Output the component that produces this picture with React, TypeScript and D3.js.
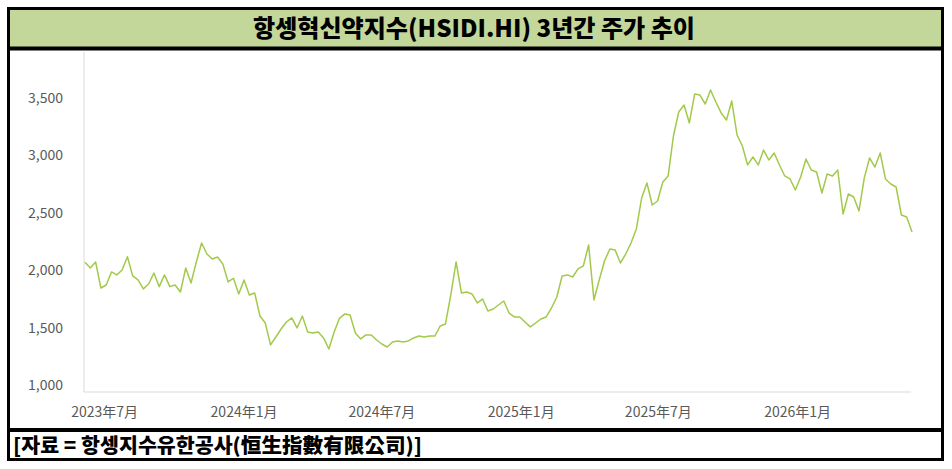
import * as d3 from "d3";

// weekly closes, starting week of 2023-06-05
const startDate = new Date(2023, 5, 5);
const values = [
  2060, 2010, 2063, 1836, 1862, 1976, 1950, 1993, 2109, 1941,
  1906, 1828, 1871, 1967, 1848, 1950, 1848, 1862, 1801, 2010,
  1880, 2063, 2228, 2132, 2089, 2106, 2045, 1889, 1921, 1784,
  1906, 1775, 1793, 1592, 1531, 1340, 1409, 1479, 1540, 1575,
  1488, 1592, 1453, 1444, 1453, 1401, 1305, 1453, 1572, 1610,
  1601, 1444, 1392, 1427, 1427, 1383, 1348, 1322, 1366, 1375,
  1366, 1375, 1401, 1418, 1409, 1418, 1418, 1505, 1523, 1775,
  2063, 1793, 1801, 1784, 1706, 1740, 1636, 1653, 1688, 1723,
  1618, 1584, 1584, 1540, 1497, 1531, 1566, 1584, 1662, 1758,
  1941, 1950, 1932, 2002, 2028, 2211, 1732, 1906, 2071, 2176,
  2167, 2054, 2132, 2228, 2350, 2620, 2751, 2559, 2594, 2760,
  2812, 3160, 3369, 3430, 3274, 3526, 3517, 3439, 3561, 3456,
  3361, 3300, 3465, 3169, 3073, 2908, 2977, 2908, 3038, 2951,
  3012, 2908, 2812, 2786, 2690, 2803, 2960, 2864, 2847, 2664,
  2829, 2812, 2864, 2481, 2655, 2629, 2507, 2795, 2969, 2890,
  3012, 2786, 2742, 2716, 2472, 2455, 2324,
];

const yTicks = [1000, 1500, 2000, 2500, 3000, 3500];
const xTickDates = [
  new Date(2023, 6, 1),
  new Date(2024, 0, 1),
  new Date(2024, 6, 1),
  new Date(2025, 0, 1),
  new Date(2025, 6, 1),
  new Date(2026, 0, 1),
];
const xTickLabels = ["2023年7月", "2024年1月", "2024年7月", "2025年1月", "2025年7月", "2026年1月"];

const title = "항셍혁신약지수(HSIDI.HI) 3년간 주가 추이";
const source = "[자료 = 항셍지수유한공사(恒生指數有限公司)]";

const W = 952;
const H = 469;

export default function App() {
  const data = values.map((v, i) => ({ date: d3.timeWeek.offset(startDate, i), value: v }));

  const x = d3
    .scaleTime()
    .domain([startDate, data[data.length - 1].date])
    .range([85, 912]);

  const y = d3.scaleLinear().domain([930, 3892]).range([392, 52]);

  const line = d3
    .line<{ date: Date; value: number }>()
    .x((d) => x(d.date))
    .y((d) => y(d.value));

  const font = "'Noto Sans CJK KR', 'Noto Sans', sans-serif";

  return (
    <svg
      width={W}
      height={H}
      style={{ position: "absolute", left: 0, top: 0, background: "#fff" }}
    >
      {/* title band */}
      <rect x={9} y={9} width={933} height={39} fill="#c4d79b" />
      <text
        x={253}
        y={37}
        textLength={442}
        lengthAdjust="spacingAndGlyphs"
        fontFamily={font}
        fontWeight={900}
        fontSize={24}
        fill="#000"
      >
        {title}
      </text>

      {/* axes */}
      <line x1={84} x2={84} y1={52} y2={392} stroke="#d9d9d9" strokeWidth={1} />
      <line x1={84} x2={911} y1={392} y2={392} stroke="#d9d9d9" strokeWidth={1} />

      {yTicks.map((t) => (
        <text
          key={t}
          x={63}
          y={y(t)}
          textAnchor="end"
          dominantBaseline="central"
          fontFamily={font}
          fontSize={14}
          fill="#595959"
        >
          {d3.format(",")(t)}
        </text>
      ))}

      {xTickDates.map((d, i) => (
        <text
          key={i}
          x={x(d)}
          y={411}
          textAnchor="middle"
          dominantBaseline="central"
          fontFamily={font}
          fontSize={14}
          fill="#595959"
        >
          {xTickLabels[i]}
        </text>
      ))}

      <path d={line(data) ?? ""} fill="none" stroke="#a3c94b" strokeWidth={1.5} strokeLinejoin="round" />

      {/* source row */}
      <text
        x={13}
        y={453}
        textLength={409}
        lengthAdjust="spacingAndGlyphs"
        fontFamily={font}
        fontWeight={900}
        fontSize={20}
        fill="#000"
      >
        {source}
      </text>

      {/* frame */}
      <rect x={8.5} y={8.5} width={934} height={451} fill="none" stroke="#000" strokeWidth={3} />
      <line x1={8} x2={943} y1={48.5} y2={48.5} stroke="#000" strokeWidth={4} />
      <line x1={8} x2={943} y1={430} y2={430} stroke="#000" strokeWidth={4} />
    </svg>
  );
}
